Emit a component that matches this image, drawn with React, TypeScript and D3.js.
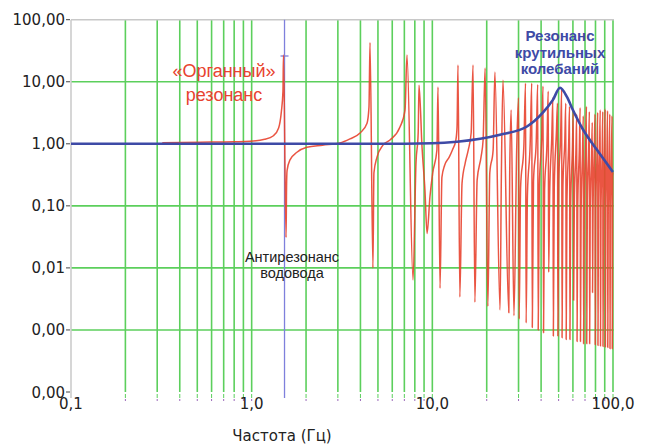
import React from "react";
import * as d3 from "d3";

// ---- data ----
const yTickValues = [100, 10, 1, 0.1, 0.01, 0.001, 0.0001];
const yTickLabels = ["100,00", "10,00", "1,00", "0,10", "0,01", "0,00", "0,00"];
const xTickValues = [0.1, 1, 10, 100];
const xTickLabels = ["0,1", "1,0", "10,0", "100,0"];

// "Органный" response (frequency Hz, amplitude)
const redLow: [number, number][] = [
  [0.32, 1.04], [0.52, 1.06], [0.8, 1.08], [0.98, 1.1], [1.18, 1.18], [1.32, 1.35],
  [1.41, 1.8], [1.46, 3.3], [1.49, 7], [1.5, 27], [1.55, 0.031], [1.56, 0.2],
  [1.57, 0.37], [1.63, 0.55], [1.78, 0.73], [2.02, 0.88], [2.47, 0.95], [3.08, 1.03],
  [3.5, 1.2], [3.98, 1.49], [4.35, 2.15], [4.46, 3.9], [4.52, 43], [4.69, 0.01],
  [4.75, 0.34], [4.94, 0.61], [5.33, 0.95], [5.83, 1.15], [6.62, 1.86], [7.06, 3.5],
  [7.24, 27], [7.82, 0.0064], [8.12, 0.49], [8.35, 1.5], [8.44, 8.8], [8.77, 0.88],
  [9.1, 0.18], [9.35, 0.036], [9.7, 0.14], [10.05, 0.34], [10.6, 0.79], [10.75, 8.2],
  [11.03, 0.0047], [11.3, 0.29], [11.7, 0.45], [12.4, 0.61], [12.9, 0.79], [13.5, 1.15],
  [13.7, 1.86], [13.87, 18.6], [14.2, 0.0034], [14.6, 0.23], [15.2, 0.49], [15.8, 0.79],
  [16.4, 1.49], [16.8, 18.6], [17.2, 0.0028], [17.7, 0.26], [18.6, 0.61], [19.1, 1.15],
  [19.6, 16.6], [20.3, 0.0024], [20.8, 0.34], [21.7, 0.79], [22.2, 14.3], [23.7, 0.0021],
  [24.1, 0.3], [24.6, 10.6], [26.5, 0.0019], [26.8, 0.3], [27.3, 3.5], [28.3, 0.0017],
];
const redHigh: [number, number][] = [
  [29.3, 0.8], [30.0, 5.5], [30.25, 0.0015], [30.8, 0.2],
  [32.1, 0.9], [32.8, 9.5], [33.05, 0.0013], [33.6, 0.15],
  [34.8, 1.0], [35.5, 9.5], [35.75, 0.0011], [36.3, 0.25],
  [37.6, 1.1], [38.3, 9.0], [38.55, 0.001], [39.1, 0.2],
  [40.3, 1.2], [41.0, 8.5], [41.25, 0.0009], [41.8, 0.18],
  [43.1, 1.0], [43.8, 7.0], [44.05, 0.0085], [44.6, 0.15],
  [45.8, 1.2], [46.5, 5.5], [46.75, 0.0008], [47.3, 0.2],
  [48.6, 1.5], [49.3, 4.5], [49.55, 0.0008], [50.1, 0.25],
  [51.3, 1.3], [52.0, 7.5], [52.25, 0.00075], [52.8, 0.2],
  [54.1, 1.1], [54.8, 4.5], [55.05, 0.0007], [55.6, 0.12],
  [56.8, 0.9], [57.5, 4.0], [57.75, 0.0007], [58.3, 0.1],
  [59.6, 0.8], [60.3, 3.5], [60.55, 0.003], [61.1, 0.12],
  [62.3, 0.7], [63.0, 3.0], [63.25, 0.00065], [63.8, 0.1],
  [65.1, 0.8], [65.8, 3.8], [66.05, 0.00065], [66.6, 0.08],
  [67.8, 0.7], [68.5, 2.8], [68.75, 0.0006], [69.3, 0.1],
  [70.6, 0.9], [71.3, 4.0], [71.55, 0.0006], [72.1, 0.12],
  [73.3, 0.7], [74.0, 3.3], [74.25, 0.0006], [74.8, 0.08],
  [76.1, 0.6], [76.8, 2.2], [77.05, 0.004], [77.6, 0.1],
  [78.8, 0.8], [79.5, 3.0], [79.75, 0.00058], [80.3, 0.09],
  [81.6, 0.7], [82.3, 3.2], [82.55, 0.00056], [83.1, 0.1],
  [84.3, 0.8], [85.0, 3.5], [85.25, 0.00055], [85.8, 0.08],
  [87.1, 0.7], [87.8, 3.3], [88.05, 0.00054], [88.6, 0.1],
  [89.8, 0.8], [90.5, 3.6], [90.75, 0.00053], [91.3, 0.09],
  [92.6, 0.7], [93.3, 3.4], [93.55, 0.00052], [94.1, 0.08],
  [95.3, 0.6], [96.0, 3.0], [96.25, 0.0005], [96.8, 0.1],
  [98.1, 0.6], [98.8, 2.8], [99.05, 0.0005], [99.6, 0.3], [100, 0.35],
];

// torsional resonance curve
const blueData: [number, number][] = [
  [0.1, 1], [5, 1], [10, 1.02], [13.7, 1.08], [23.7, 1.4], [33.4, 1.9], [41, 3.2],
  [46.5, 5.1], [50.9, 8], [55.6, 5.7], [60, 3.5], [68.2, 1.7], [81.5, 0.8], [100, 0.35],
];

const antiresonanceFreq = 1.52;
const antiresonanceCap = 26;

export default function App() {
  const x = d3.scaleLog().domain([0.1, 100]).range([71, 613]);
  const y = d3.scaleLog().domain([0.0001, 100]).range([392, 19.7]);

  const gridX: number[] = [];
  [0.1, 1, 10].forEach((d) => {
    for (let k = 2; k <= 10; k++) gridX.push(d * k);
  });
  const gridY = [10, 0.1, 0.01, 0.001];

  const redLine = d3
    .line<[number, number]>()
    .x((d) => x(d[0]))
    .y((d) => y(d[1]))
    .curve(d3.curveMonotoneX);
  const blueLine = d3
    .line<[number, number]>()
    .x((d) => x(d[0]))
    .y((d) => y(d[1]))
    .curve(d3.curveMonotoneX);

  const redAll = [...redLow, ...redHigh];
  const green = "#5ccf5c";
  const red = "#e8432f";
  const blue = "#3e4aa6";
  const x0 = x(0.1);
  const x1 = x(100) + 1;
  const yTop = y(100);
  const yBot = y(0.0001);
  const ax = x(antiresonanceFreq);

  return (
    <svg
      width={649}
      height={444}
      style={{ position: "absolute", left: 0, top: 0, background: "#fff" }}
    >
      {/* grid */}
      {gridY.map((v) => (
        <line key={"gy" + v} x1={x0} x2={x1} y1={y(v)} y2={y(v)} stroke={green} strokeWidth={1.6} />
      ))}
      {gridX.map((v) => (
        <g key={"gx" + v}>
          <line x1={x(v)} x2={x(v)} y1={yTop} y2={yBot} stroke={green} strokeWidth={1.6} />
          <line x1={x(v)} x2={x(v)} y1={yBot + 2} y2={yBot + 6} stroke={green} strokeWidth={1} />
          <line x1={x(v)} x2={x(v)} y1={yBot + 7} y2={yBot + 9} stroke="#9a68b8" strokeWidth={1} />
        </g>
      ))}
      {/* axes */}
      <line x1={x0} x2={x1} y1={yTop} y2={yTop} stroke="#c8c8c8" strokeWidth={1.5} />
      <line x1={x0} x2={x0} y1={yTop} y2={yBot + 6} stroke="#c8c8c8" strokeWidth={1.5} />
      {yTickValues.map((v, i) => (
        <g key={"yt" + i}>
          <line x1={x0 - 5} x2={x0 - 1} y1={y(v)} y2={y(v)} stroke="#444" strokeWidth={1} />
          <text
            x={x0 - 6}
            y={y(v) + 5.5}
            textAnchor="end"
            fontFamily="DejaVu Sans"
            fontSize={15}
            fill="#222"
          >
            {yTickLabels[i]}
          </text>
        </g>
      ))}
      {xTickValues.map((v, i) => (
        <text
          key={"xt" + i}
          x={x(v)}
          y={yBot + 17}
          textAnchor="middle"
          fontFamily="DejaVu Sans"
          fontSize={15}
          fill="#222"
        >
          {xTickLabels[i]}
        </text>
      ))}
      <text x={282} y={441} textAnchor="middle" fontFamily="DejaVu Sans" fontSize={15} fill="#222">
        Частота (Гц)
      </text>

      {/* antiresonance marker */}
      <line x1={ax} x2={ax} y1={yTop} y2={yBot + 6} stroke="#7f80dc" strokeWidth={1.3} />
      <line x1={ax - 4} x2={ax + 4} y1={y(antiresonanceCap)} y2={y(antiresonanceCap)} stroke="#7f80dc" strokeWidth={1.3} />

      {/* curves */}
      <path d={redLine(redAll) || ""} fill="none" stroke={red} strokeWidth={1.5} strokeOpacity={0.9} strokeLinejoin="round" />
      <path d={blueLine(blueData) || ""} fill="none" stroke={blue} strokeWidth={2.6} strokeLinejoin="round" />

      {/* annotations */}
      <text textAnchor="middle" fontFamily="Liberation Sans, Arial" fontSize={18} fill={red}>
        <tspan x={224} y={77}>«Органный»</tspan>
        <tspan x={224} y={100.5}>резонанс</tspan>
      </text>
      <text textAnchor="middle" fontFamily="Liberation Sans, Arial" fontSize={14.5} fill="#222">
        <tspan x={292} y={262}>Антирезонанс</tspan>
        <tspan x={292} y={278}>водовода</tspan>
      </text>
      <text textAnchor="middle" fontFamily="Liberation Sans, Arial" fontWeight="bold" fontSize={15} fill={blue}>
        <tspan x={560} y={41}>Резонанс</tspan>
        <tspan x={560} y={58}>крутильных</tspan>
        <tspan x={560} y={74}>колебаний</tspan>
      </text>
    </svg>
  );
}
